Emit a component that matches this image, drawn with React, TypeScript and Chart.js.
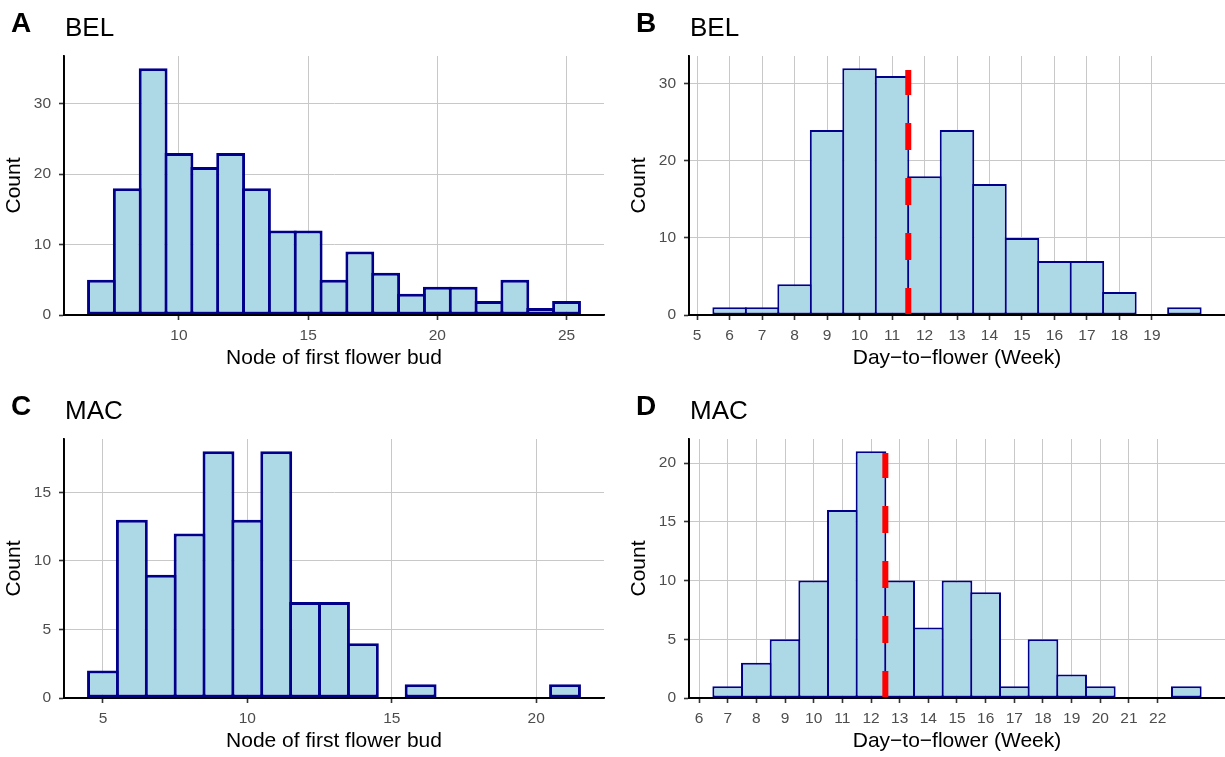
import React, { useEffect, useRef } from "react";
import { Chart, registerables } from "chart.js";

Chart.register(...registerables);

const FONT = "'Liberation Sans', Arial, Helvetica, sans-serif";

// ---------- Panel A: BEL, node of first flower bud ----------
const A_BINS = [7, 8, 9, 10, 11, 12, 13, 14, 15, 16, 17, 18, 19, 20, 21, 22, 23, 24, 25];
const A_COUNTS = [5, 18, 35, 23, 21, 23, 18, 12, 12, 5, 9, 6, 3, 4, 4, 2, 5, 1, 2];
const A_XTICKS = [10, 15, 20, 25];
const A_YTICKS = [0, 10, 20, 30];

// ---------- Panel B: BEL, day-to-flower (week) ----------
const B_BINS = [6, 7, 8, 9, 10, 11, 12, 13, 14, 15, 16, 17, 18, 19, 20];
const B_COUNTS = [1, 1, 4, 24, 32, 31, 18, 24, 17, 10, 7, 7, 3, 0, 1];
const B_XTICKS = [5, 6, 7, 8, 9, 10, 11, 12, 13, 14, 15, 16, 17, 18, 19];
const B_YTICKS = [0, 10, 20, 30];
const B_MEDIAN = [11.5];
const B_MEDIAN_TOP = [31.8];

// ---------- Panel C: MAC, node of first flower bud ----------
const C_BINS = [5, 6, 7, 8, 9, 10, 11, 12, 13, 14, 15, 16, 17, 18, 19, 20, 21];
const C_COUNTS = [2, 13, 9, 12, 18, 13, 18, 7, 7, 4, 0, 1, 0, 0, 0, 0, 1];
const C_XTICKS = [5, 10, 15, 20];
const C_YTICKS = [0, 5, 10, 15];

// ---------- Panel D: MAC, day-to-flower (week) ----------
const D_BINS = [7, 8, 9, 10, 11, 12, 13, 14, 15, 16, 17, 18, 19, 20, 21, 22, 23];
const D_COUNTS = [1, 3, 5, 10, 16, 21, 10, 6, 10, 9, 1, 5, 2, 1, 0, 0, 1];
const D_XTICKS = [6, 7, 8, 9, 10, 11, 12, 13, 14, 15, 16, 17, 18, 19, 20, 21, 22];
const D_YTICKS = [0, 5, 10, 15, 20];
const D_MEDIAN = [12.5];
const D_MEDIAN_TOP = [20.85];

const X_TITLE_NODE = "Node of first flower bud";
const X_TITLE_DAY = "Day\u2212to\u2212flower (Week)";
const Y_TITLE = "Count";

type PanelDef = {
  letter: string;
  title: string;
  bins: number[];
  counts: number[];
  xticks: number[];
  yticks: number[];
  xTitle: string;
  median?: number[];
  medianTop?: number[];
  canvas: { left: number; top: number; w: number; h: number };
  plot: { left: number; top: number; right: number; bottom: number };
  bw: number;
  yTitlePad: number;
};

const PANELS: PanelDef[] = [
  {
    letter: "A", title: "BEL", bins: A_BINS, counts: A_COUNTS, xticks: A_XTICKS, yticks: A_YTICKS,
    xTitle: X_TITLE_NODE,
    canvas: { left: 0, top: 0, w: 612, h: 378 },
    plot: { left: 64, top: 56, right: 604, bottom: 315 }, bw: 3, yTitlePad: 2,
  },
  {
    letter: "B", title: "BEL", bins: B_BINS, counts: B_COUNTS, xticks: B_XTICKS, yticks: B_YTICKS,
    xTitle: X_TITLE_DAY, median: B_MEDIAN, medianTop: B_MEDIAN_TOP,
    canvas: { left: 612, top: 0, w: 613, h: 378 },
    plot: { left: 77, top: 56, right: 613, bottom: 315 }, bw: 2, yTitlePad: 15,
  },
  {
    letter: "C", title: "MAC", bins: C_BINS, counts: C_COUNTS, xticks: C_XTICKS, yticks: C_YTICKS,
    xTitle: X_TITLE_NODE,
    canvas: { left: 0, top: 378, w: 612, h: 379 },
    plot: { left: 64, top: 61, right: 604, bottom: 320 }, bw: 3, yTitlePad: 2,
  },
  {
    letter: "D", title: "MAC", bins: D_BINS, counts: D_COUNTS, xticks: D_XTICKS, yticks: D_YTICKS,
    xTitle: X_TITLE_DAY, median: D_MEDIAN, medianTop: D_MEDIAN_TOP,
    canvas: { left: 612, top: 378, w: 613, h: 379 },
    plot: { left: 77, top: 61, right: 613, bottom: 320 }, bw: 2, yTitlePad: 15,
  },
];

function Panel({ p }: { p: PanelDef }) {
  const ref = useRef<HTMLCanvasElement | null>(null);

  useEffect(() => {
    if (!ref.current) return;
    const xmin0 = p.bins[0] - 0.5;
    const xmax0 = p.bins[p.bins.length - 1] + 0.5;
    const xexp = (xmax0 - xmin0) * 0.05;
    const xmin = xmin0 - xexp;
    const xmax = xmax0 + xexp;
    const ymax = Math.max(...p.counts) * 1.05;
    const unitPx = (p.plot.right - p.plot.left) / (xmax - xmin);
    const barPct = 1 + p.bw / unitPx;

    const data = p.bins
      .map((b, i) => ({ x: b, y: p.counts[i] }))
      .filter((d) => d.y > 0);

    const overlay = {
      id: "overlay" + p.letter,
      afterDatasetsDraw(chart: any) {
        const ctx = chart.ctx;
        const ca = chart.chartArea;
        const xs = chart.scales.x;
        const ys = chart.scales.y;
        ctx.save();
        if (p.median && p.medianTop) {
          p.median.forEach((m, i) => {
            const x = xs.getPixelForValue(m);
            const y0 = ys.getPixelForValue(0);
            const y1 = ys.getPixelForValue(p.medianTop![i]);
            ctx.beginPath();
            ctx.setLineDash([27, 28]);
            ctx.lineWidth = 6;
            ctx.lineCap = "butt";
            ctx.strokeStyle = "#ff0000";
            ctx.moveTo(x, y0);
            ctx.lineTo(x, y1);
            ctx.stroke();
          });
        }
        ctx.setLineDash([]);
        ctx.strokeStyle = "#000000";
        ctx.lineWidth = 1.8;
        ctx.beginPath();
        ctx.moveTo(ca.left - 0.9, ca.bottom);
        ctx.lineTo(ca.right, ca.bottom);
        ctx.moveTo(ca.left, ca.top);
        ctx.lineTo(ca.left, ca.bottom + 0.9);
        ctx.stroke();
        ctx.restore();
      },
      afterDraw(chart: any) {
        const ctx = chart.ctx;
        const ca = chart.chartArea;
        ctx.save();
        ctx.fillStyle = "#000000";
        ctx.textBaseline = "alphabetic";
        ctx.textAlign = "left";
        ctx.font = `bold 28px ${FONT}`;
        ctx.fillText(p.letter, ca.left - 53, ca.top - 24);
        ctx.font = `26px ${FONT}`;
        ctx.fillText(p.title, ca.left + 1, ca.top - 20);
        ctx.restore();
      },
    };

    const chart = new Chart(ref.current, {
      type: "bar",
      data: {
        datasets: [
          {
            data: data as any,
            backgroundColor: "#ADD8E6",
            borderColor: "#00008B",
            borderWidth: p.bw,
            borderSkipped: false,
            inflateAmount: 0,
            barPercentage: barPct,
            categoryPercentage: 1,
          } as any,
        ],
      },
      options: {
        responsive: false,
        animation: false,
        events: [],
        layout: {
          padding: { left: 0, top: p.plot.top, right: p.canvas.w - p.plot.right, bottom: 0 },
        },
        plugins: {
          legend: { display: false },
          tooltip: { enabled: false },
          title: { display: false },
        },
        scales: {
          x: {
            type: "linear",
            min: xmin,
            max: xmax,
            offset: false,
            afterBuildTicks: (scale: any) => {
              scale.ticks = p.xticks.map((v) => ({ value: v }));
            },
            afterFit: (scale: any) => {
              scale.height = p.canvas.h - p.plot.bottom;
            },
            grid: {
              offset: false,
              color: "#c8c8c8",
              lineWidth: 1,
              drawTicks: true,
              tickLength: 5,
              tickColor: "#333333",
              tickWidth: 1.6,
            },
            border: { display: true, color: "#000000", width: 1.8 },
            ticks: {
              autoSkip: false,
              maxRotation: 0,
              minRotation: 0,
              padding: 6,
              color: "#4d4d4d",
              font: { family: FONT, size: 15.5 },
              callback: (v: any) => String(v),
            },
            title: {
              display: true,
              text: p.xTitle,
              color: "#000000",
              font: { family: FONT, size: 21 },
              padding: { top: 0, bottom: p.canvas.h - 12.6 - (p.plot.bottom + 43) },
            },
          } as any,
          y: {
            type: "linear",
            min: 0,
            max: ymax,
            afterBuildTicks: (scale: any) => {
              scale.ticks = p.yticks.map((v) => ({ value: v }));
            },
            afterFit: (scale: any) => {
              scale.width = p.plot.left;
            },
            grid: {
              color: "#c8c8c8",
              lineWidth: 1,
              drawTicks: true,
              tickLength: 5,
              tickColor: "#333333",
              tickWidth: 1.6,
            },
            border: { display: true, color: "#000000", width: 1.8 },
            ticks: {
              padding: 8,
              color: "#4d4d4d",
              font: { family: FONT, size: 15.5 },
              callback: (v: any) => String(v),
            },
            title: {
              display: true,
              text: Y_TITLE,
              color: "#000000",
              font: { family: FONT, size: 21 },
              padding: { top: p.yTitlePad, bottom: 0 },
            },
          } as any,
        },
      },
      plugins: [overlay],
    });
    return () => chart.destroy();
  }, [p]);

  return (
    <canvas
      ref={ref}
      width={p.canvas.w}
      height={p.canvas.h}
      style={{
        position: "absolute",
        left: p.canvas.left,
        top: p.canvas.top,
        width: p.canvas.w,
        height: p.canvas.h,
      }}
    />
  );
}

export default function App() {
  return (
    <div
      style={{
        position: "absolute",
        left: 0,
        top: 0,
        width: 1225,
        height: 757,
        background: "#ffffff",
        overflow: "hidden",
      }}
    >
      {PANELS.map((p) => (
        <Panel key={p.letter} p={p} />
      ))}
    </div>
  );
}
